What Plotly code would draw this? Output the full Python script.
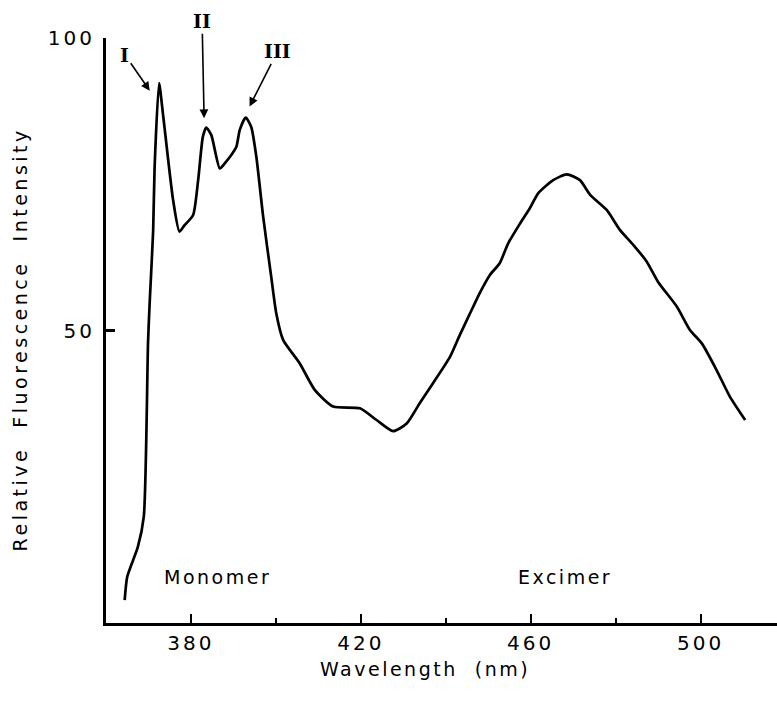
import plotly.graph_objects as go

# Emission spectrum
wavelength = [364.4, 365.0, 367.5, 368.9, 369.9, 370.3, 371.1, 371.45, 372.5, 373.4,
              375.8, 377.3, 378.5, 380.5, 381.7, 382.8, 383.6, 384.8, 386.8, 388.0,
              389.5, 390.7, 391.5, 392.9, 394.2, 395.4, 397.0, 398.9, 400.1, 401.7,
              405.6, 409.2, 413.5, 419.8, 423.7, 427.6, 430.8, 433.9, 437.0, 441.0,
              443.3, 445.7, 448.0, 450.4, 452.7, 454.7, 457.5, 459.8, 461.8, 465.3,
              468.5, 471.6, 474.0, 477.9, 481.0, 484.2, 487.3, 490.0, 494.4, 497.5,
              500.3, 503.8, 506.9, 510.5]
intensity = [3.9, 7.9, 13.0, 18.2, 48.0, 55.0, 67.0, 78.0, 92.3, 87.1,
             72.3, 66.9, 68.0, 69.7, 75.7, 83.1, 84.7, 83.4, 77.7, 78.6,
             80.0, 81.4, 84.3, 86.4, 84.8, 79.7, 69.5, 59.2, 52.9, 48.4,
             44.4, 39.8, 37.0, 36.7, 34.7, 32.8, 34.1, 37.6, 41.0, 45.5,
             49.2, 52.9, 56.4, 59.5, 61.5, 64.9, 68.3, 70.9, 73.5, 75.7,
             76.7, 75.7, 73.2, 70.6, 67.2, 64.6, 61.8, 58.3, 54.1, 50.1,
             47.8, 43.2, 38.7, 34.7]

x_tickvals = [380, 420, 460, 500]
x_ticklabels = ["380", "420", "460", "500"]
x_minor_tickvals = [400, 440, 480]
y_tickvals = [50, 100]
y_ticklabels = ["50", "100"]

peak_labels = ["I", "II", "III"]
peak_x = [370.3, 383.1, 393.8]
peak_y = [91.0, 86.3, 88.3]
label_offsets = [(-25, -36), (-2, -97), (28, -55)]

region_labels = ["Monomer", "Excimer"]
region_x = [386.3, 468.1]
region_y = [7.9, 7.9]

FONT = "DejaVu Sans"


def spaced(text, px):
    return f"<span style='letter-spacing:{px}px'>{text}</span>"


fig = go.Figure()
fig.add_trace(go.Scatter(
    x=wavelength, y=intensity, mode="lines",
    line=dict(color="black", width=2.7, shape="spline", smoothing=0.6),
    showlegend=False, hoverinfo="skip"))

annotations = []
for lab, px, py, (ax, ay) in zip(peak_labels, peak_x, peak_y, label_offsets):
    annotations.append(dict(
        x=px, y=py, xref="x", yref="y", text="<b>" + lab + "</b>", showarrow=True,
        ax=ax, ay=ay, axref="pixel", ayref="pixel",
        arrowhead=2, arrowsize=1.1, arrowwidth=1.6, arrowcolor="black",
        font=dict(family="DejaVu Serif", size=19, color="black"),
        standoff=0, startstandoff=0))
for lab, rx, ry in zip(region_labels, region_x, region_y):
    annotations.append(dict(
        x=rx, y=ry, xref="x", yref="y", text=spaced(lab, 2.5), showarrow=False,
        font=dict(family=FONT, size=19, color="black"),
        xanchor="center", yanchor="middle"))

annotations.append(dict(
    x=0.475, y=-0.078, xref="paper", yref="paper",
    text=spaced("Wavelength\u00a0\u00a0(nm)", 2.5), showarrow=False,
    font=dict(family=FONT, size=19, color="black"),
    xanchor="center", yanchor="middle"))
annotations.append(dict(
    x=-0.128, y=0.485, xref="paper", yref="paper",
    text=spaced("Relative\u00a0\u00a0Fluorescence\u00a0\u00a0Intensity", 3.5),
    textangle=-90, showarrow=False,
    font=dict(family=FONT, size=19, color="black"),
    xanchor="center", yanchor="middle"))

fig.update_layout(
    width=777, height=704,
    margin=dict(l=106, r=0, t=38, b=81),
    paper_bgcolor="white", plot_bgcolor="white",
    annotations=annotations,
    xaxis=dict(
        range=[360, 518], showgrid=False, zeroline=False,
        showline=True, linecolor="black", linewidth=2.6,
        tickmode="array", tickvals=x_tickvals,
        ticktext=[spaced(t, 3) for t in x_ticklabels],
        ticks="inside", ticklen=9, tickwidth=2, tickcolor="black",
        minor=dict(ticks="inside", ticklen=5, tickwidth=2, tickcolor="black",
                   tickmode="array", tickvals=x_minor_tickvals),
        tickfont=dict(family=FONT, size=20, color="black"),
        ticklabelstandoff=0),
    yaxis=dict(
        range=[0, 100], showgrid=False, zeroline=False,
        showline=True, linecolor="black", linewidth=3,
        tickmode="array", tickvals=y_tickvals,
        ticktext=[spaced(t, 3) for t in y_ticklabels],
        ticks="inside", ticklen=9, tickwidth=2.5, tickcolor="black",
        tickfont=dict(family=FONT, size=20, color="black"),
        ticklabelstandoff=4),
)

fig.write_html("out.html")
